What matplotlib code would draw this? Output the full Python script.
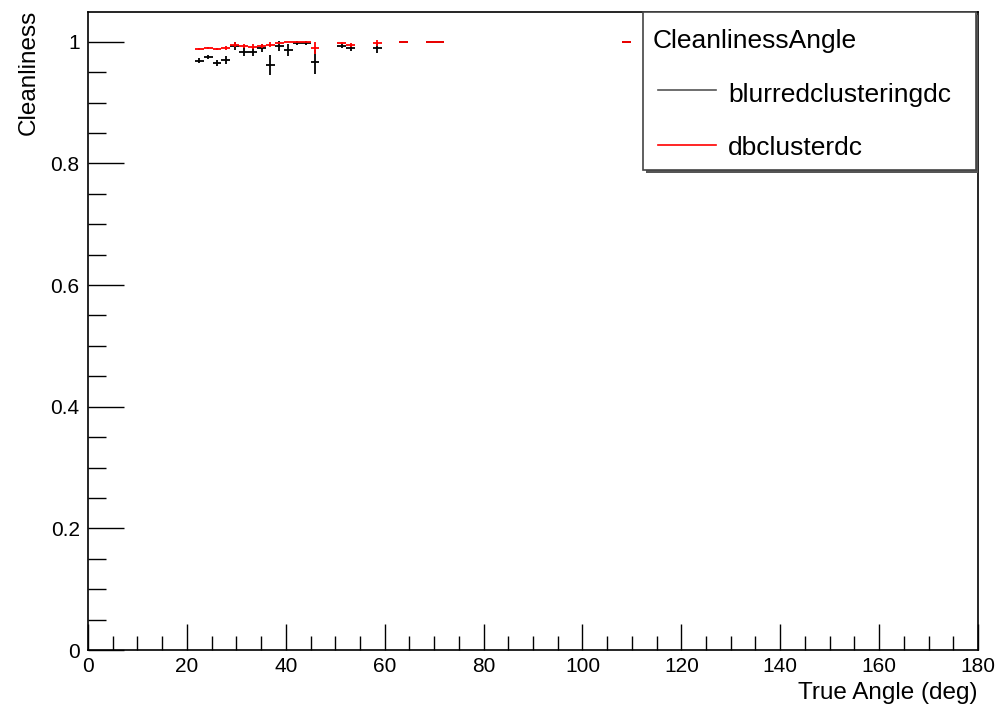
import matplotlib
matplotlib.use("Agg")
import matplotlib.pyplot as plt
from matplotlib.ticker import MultipleLocator
from matplotlib.lines import Line2D
from matplotlib.patches import Rectangle

plt.rcParams['font.family'] = ['Liberation Sans', 'DejaVu Sans']

angles = [22.5, 24.3, 26.1, 27.9, 29.7, 31.5, 33.3, 35.1, 36.9, 38.7, 40.5, 42.3,
          44.1, 45.9, 51.3, 53.1, 58.5, 63.9, 69.3, 71.1, 108.9]
blurred = [0.969, 0.975, 0.965, 0.970, 0.993, 0.984, 0.984, 0.990, 0.962, 0.993, 0.987, 0.998,
           0.998, 0.967, 0.993, 0.990, 0.990, 1.0, 1.0, 1.0, 1.0]
blurred_err = [0.004, 0.004, 0.005, 0.006, 0.006, 0.008, 0.008, 0.007, 0.016, 0.008, 0.010, 0.004,
               0.004, 0.020, 0.004, 0.005, 0.008, 0.0, 0.0, 0.0, 0.0]
dbcluster = [0.988, 0.990, 0.988, 0.990, 0.995, 0.993, 0.992, 0.993, 0.995, 0.998, 1.0, 1.0,
             1.0, 0.990, 0.998, 0.995, 0.998, 1.0, 1.0, 1.0, 1.0]
dbcluster_err = [0.002, 0.002, 0.002, 0.003, 0.004, 0.004, 0.004, 0.004, 0.004, 0.002, 0.0, 0.0,
                 0.0, 0.010, 0.002, 0.003, 0.005, 0.0, 0.0, 0.0, 0.0]
half_bin = 0.9

fig = plt.figure(figsize=(10.04, 7.11), dpi=100)
ax = fig.add_axes([88/1004, 61/711, 890/1004, 638/711])

ax.errorbar(angles, blurred, xerr=half_bin, yerr=blurred_err, fmt='none',
            ecolor='black', elinewidth=1.3, capsize=0)
ax.errorbar(angles, dbcluster, xerr=half_bin, yerr=dbcluster_err, fmt='none',
            ecolor='red', elinewidth=1.3, capsize=0)

ax.set_xlim(0, 180)
ax.set_ylim(0, 1.049)
ax.xaxis.set_major_locator(MultipleLocator(20))
ax.xaxis.set_minor_locator(MultipleLocator(5))
ax.yaxis.set_minor_locator(MultipleLocator(0.05))
ax.set_yticks([0, 0.2, 0.4, 0.6, 0.8, 1.0])
ax.set_yticklabels(['0', '0.2', '0.4', '0.6', '0.8', '1'])
ax.tick_params(axis='both', which='both', direction='in', top=False, right=False,
               labelsize=15, width=1)
ax.tick_params(axis='x', which='major', length=19, pad=5)
ax.tick_params(axis='x', which='minor', length=10)
ax.tick_params(axis='y', which='major', length=26, pad=6)
ax.tick_params(axis='y', which='minor', length=13)
for s in ax.spines.values():
    s.set_linewidth(1.2)

W, H = 1004, 711
def fx(px): return px / W
def fy(py): return 1 - py / H

fig.text(fx(978), fy(693), 'True Angle (deg)', fontsize=17.5, ha='right', va='center')
fig.text(fx(29), fy(10), 'Cleanliness', fontsize=17.5, rotation=90, ha='center', va='top')

# Legend box (ROOT style)
shadow = Rectangle((fx(646), fy(173)), fx(978) - fx(646), fy(15) - fy(173),
                   transform=fig.transFigure, facecolor='#555555', edgecolor='none', zorder=9)
box = Rectangle((fx(643), fy(170)), fx(976) - fx(643), fy(12) - fy(170),
                transform=fig.transFigure, facecolor='white', edgecolor='#444444',
                linewidth=1.2, zorder=10)
fig.patches.extend([shadow, box])
fig.text(fx(653), fy(41), 'CleanlinessAngle', fontsize=19, va='center', ha='left', zorder=11)
fig.lines.append(Line2D([fx(658), fx(716)], [fy(90), fy(90)], transform=fig.transFigure,
                        color='#555555', linewidth=1.2, zorder=11))
fig.text(fx(728), fy(95), 'blurredclusteringdc', fontsize=19, va='center', ha='left', zorder=11)
fig.lines.append(Line2D([fx(658), fx(716)], [fy(145), fy(145)], transform=fig.transFigure,
                        color='red', linewidth=1.2, zorder=11))
fig.text(fx(728), fy(148), 'dbclusterdc', fontsize=19, va='center', ha='left', zorder=11)

fig.savefig('out.png', dpi=100)
